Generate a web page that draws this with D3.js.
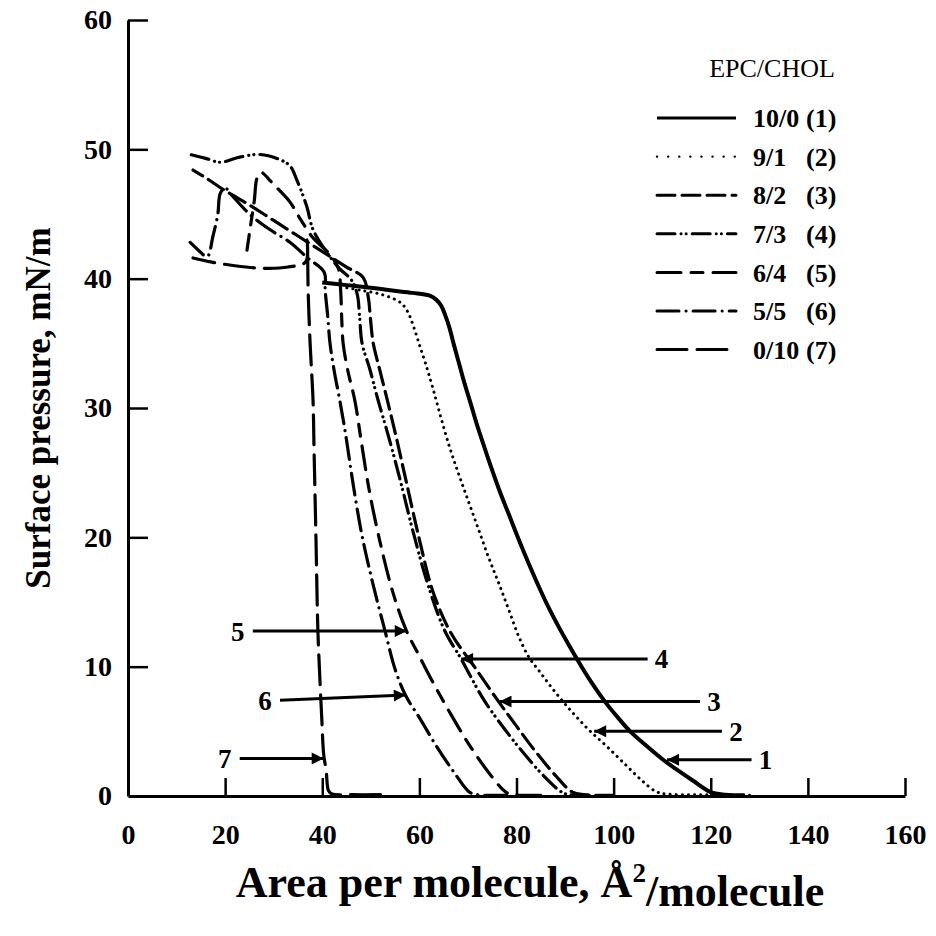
<!DOCTYPE html>
<html>
<head>
<meta charset="utf-8">
<title>EPC/CHOL isotherms</title>
<script src="https://cdn.jsdelivr.net/npm/d3@7"></script>
<style>
  body { margin: 0; background: #fff; }
  svg text { font-family: "Liberation Serif", "Times New Roman", serif; font-weight: bold; fill: #000; }
</style>
</head>
<body>
<svg id="chart" width="936" height="936"></svg>
<script>
// isotherms, [area A^2/molecule, pressure mN/m], large area -> small area
const iso1 = [[127,0.05],[123,0.1],[120,0.3],[116.3,1.2],[112.8,2.1],[110.2,2.8],[106.7,3.9],[103.4,5.0],[100.8,6.1],[98.4,7.2],[95.4,8.8],[92.6,10.5],[90.6,11.8],[88.8,13.0],[86.7,14.5],[84.7,16.1],[82.6,17.9],[80.6,19.7],[78.5,21.7],[76.5,23.6],[74.7,25.5],[73.0,27.4],[71.7,28.9],[70.6,30.3],[69.3,31.9],[68.2,33.4],[67.1,34.9],[66.2,36.2],[65.3,37.2],[64.5,37.9],[63.4,38.4],[62,38.7],[58.6,38.9],[54,39.1],[50,39.3],[45,39.5],[40,39.7]];
const iso2 = [[128,0.05],[118,0.1],[111,0.15],[108.7,0.35],[105.8,1.2],[102.5,2.4],[98.7,3.8],[95.2,5.0],[92.4,6.1],[89.8,7.2],[87.2,8.4],[84.8,9.6],[82.6,10.7],[80.5,12.3],[78.5,14.3],[76.4,16.4],[74.4,18.3],[72,20.8],[69.6,23.3],[67.8,25.2],[66.2,27],[64.4,29.3],[62.8,31.5],[61.3,33.4],[60,34.9],[58.8,36.3],[57.9,37.2],[56.8,37.9],[55.5,38.3],[52,38.8],[48,39.1],[45,39.3]];
const iso3 = [[100,0.05],[94,0.1],[91.5,0.3],[88,1.6],[84,3.4],[80,5.4],[76.5,7.2],[71.5,9.9],[66.5,12.6],[62.8,15.8],[59.9,20],[57.3,24.3],[55.2,27.8],[53.4,30.6],[51.8,33],[50.5,35],[49.9,37],[49.5,38.5],[48.4,40.1],[45,40.9],[40,42.1],[35,43.3],[30,44.5],[25,45.7],[20,46.8],[16,47.8],[13.4,48.4]];
const iso4 = [[95,0.05],[91,0.1],[89.3,0.3],[85.5,1.6],[81.5,3.3],[77.5,5.2],[73.5,7.3],[70.6,9.2],[68.6,10.6],[65.2,12.8],[61.8,16.3],[58.8,20.3],[56,24.5],[53.5,28],[51.5,30.6],[49.8,33],[48.2,35],[47.7,37],[47.2,38.8],[46,39.9],[43.5,40.8],[41,42],[38.1,43.8],[36.8,45.6],[34.8,47.6],[33.4,48.7],[31.3,49.2],[27.2,49.6],[23,49.4],[19,49],[16,49.3],[12.8,49.6]];
const iso5 = [[85,0.05],[79.5,0.1],[77.8,0.3],[74.3,1.8],[70.2,4],[66.2,6.5],[62.2,9.2],[59.6,11.1],[57.3,12.8],[54.5,15.8],[51.5,20.3],[49.5,24],[48,27.5],[46.7,30.6],[45.2,33],[44.3,35],[44,37],[43.8,39],[43.3,40.8],[41.5,41.9],[38,43.2],[35.5,44.6],[33.4,45.9],[31,46.9],[29.2,47.6],[27.5,48.2],[26.6,47.8],[26,46],[25.2,44],[24.5,42.2]];
const iso6 = [[78,0.05],[72,0.1],[70.3,0.3],[67.2,1.8],[63.6,3.8],[60.1,6],[57.2,7.75],[55,9.8],[52.9,12.8],[50.5,16.3],[48.1,20.3],[46.2,24.5],[44.8,28],[43.6,30.6],[42.4,33],[41.6,35],[41.1,37.2],[40.6,39.1],[40.4,40.5],[37,41.6],[33.4,42.8],[29.2,43.8],[25,45],[21.5,46.4],[20,47],[19,46.6],[18.5,45],[17.5,43.3],[16.3,41.7],[14.5,42.2],[12.8,42.8]];
const iso7 = [[52,0.1],[46,0.1],[42,0.15],[41.3,0.4],[40.8,2],[40.3,3.2],[39.9,6],[39.4,10],[39.1,12.8],[38.7,20],[38.3,27],[38.1,30.6],[37.5,35],[37.1,39],[36.9,43],[36.6,41.3],[33,40.9],[28,40.8],[22,41],[17,41.3],[13.4,41.6]];

const isotherms = [iso1, iso2, iso3, iso4, iso5, iso6, iso7];
const ratios = ['10/0', '9/1', '8/2', '7/3', '6/4', '5/5', '0/10'];
const curveIds = ['(1)', '(2)', '(3)', '(4)', '(5)', '(6)', '(7)'];
const xTicks = [0, 20, 40, 60, 80, 100, 120, 140, 160];
const yTicks = [0, 10, 20, 30, 40, 50, 60];

// arrows pointing at each curve: tip and tail in data units
const arrowNames = ['1', '2', '3', '4', '5', '6', '7'];
const arrowTips = [[111,2.8],[96,5.0],[76.5,7.3],[68.6,10.6],[57.4,12.75],[57.2,7.8],[40.3,2.9]];
const arrowTails = [[128.4,2.8],[122.3,5.0],[117.8,7.3],[107,10.6],[25.7,12.75],[31.3,7.4],[23,2.9]];

// line styles per curve
const dashes = [null, '0.1,6', '18,7', '18,6,0.1,5,0.1,6', '24,10,12,10', '22,7,0.1,7', '30,10'];
const widths = [4, 3, 3.2, 3.2, 3.2, 3.2, 3.2];

const svg = d3.select('#chart');
const x = d3.scaleLinear().domain([0, 160]).range([128, 905]);
const y = d3.scaleLinear().domain([0, 60]).range([796, 20]);

const line = d3.line()
    .x(d => x(d[0]))
    .y(d => y(d[1]))
    .curve(d3.curveCatmullRom.alpha(0.5));

// axes, ticks pointing inward
const xAxis = svg.append('g')
    .attr('transform', `translate(0,${y(0)})`)
    .call(d3.axisBottom(x).tickValues(xTicks).tickSizeInner(-18).tickSizeOuter(0).tickPadding(28));
xAxis.selectAll('.tick line').filter(d => d === 0).remove();

const yAxis = svg.append('g')
    .attr('transform', `translate(${x(0)},0)`)
    .call(d3.axisLeft(y).tickValues(yTicks).tickSizeInner(-20).tickSizeOuter(0).tickPadding(16));
yAxis.selectAll('.tick line').filter(d => d === 0).remove();

svg.selectAll('.domain').attr('stroke', '#000').attr('stroke-width', 3);
svg.selectAll('.tick line').attr('stroke', '#000').attr('stroke-width', 2.5);
svg.selectAll('.tick text').style('font-size', '28px').style('font-family', '"Liberation Serif", serif');

// curves
svg.append('g').selectAll('path').data(isotherms).join('path')
    .attr('d', line)
    .attr('fill', 'none')
    .attr('stroke', '#000')
    .attr('stroke-width', (d, i) => widths[i])
    .attr('stroke-linecap', (d, i) => i === 0 ? 'butt' : 'round')
    .attr('stroke-linejoin', 'round')
    .attr('stroke-dasharray', (d, i) => dashes[i]);

// arrows
svg.append('defs').append('marker')
    .attr('id', 'head')
    .attr('viewBox', '0 0 10 10')
    .attr('refX', 10).attr('refY', 5)
    .attr('markerWidth', 18).attr('markerHeight', 12)
    .attr('markerUnits', 'userSpaceOnUse')
    .attr('orient', 'auto')
    .append('path').attr('d', 'M0,0L10,5L0,10z').attr('fill', '#000');

const arrows = svg.append('g').selectAll('g').data(arrowNames).join('g');
arrows.append('line')
    .attr('x1', (d, i) => x(arrowTails[i][0]))
    .attr('y1', (d, i) => y(arrowTails[i][1]))
    .attr('x2', (d, i) => x(arrowTips[i][0]))
    .attr('y2', (d, i) => y(arrowTips[i][1]))
    .attr('stroke', '#000')
    .attr('stroke-width', 3)
    .attr('marker-end', 'url(#head)');
arrows.append('text')
    .attr('x', (d, i) => x(arrowTails[i][0]) + (arrowTails[i][0] > arrowTips[i][0] ? 14 : -15))
    .attr('y', (d, i) => y(arrowTails[i][1]))
    .attr('dy', '0.35em')
    .attr('text-anchor', 'middle')
    .style('font-size', '27px')
    .text(d => d);

// legend
const legend = svg.append('g');
legend.append('text')
    .attr('x', 772).attr('y', 77)
    .attr('text-anchor', 'middle')
    .style('font-size', '26px')
    .style('font-weight', 'normal')
    .text('EPC/CHOL');
const rows = legend.selectAll('g.row').data(ratios).join('g')
    .attr('class', 'row')
    .attr('transform', (d, i) => `translate(0,${118 + i * 38.6})`);
rows.append('line')
    .attr('x1', 657).attr('x2', 736)
    .attr('stroke', '#000')
    .attr('stroke-width', (d, i) => i === 1 ? 2.4 : 3)
    .attr('stroke-linecap', (d, i) => i === 0 ? 'butt' : 'round')
    .attr('stroke-dasharray', (d, i) => i === 1 ? '0.1,11' : dashes[i]);
rows.append('text')
    .attr('x', 753).attr('dy', '0.35em')
    .style('font-size', '26px')
    .text(d => d);
rows.append('text')
    .attr('x', 806).attr('dy', '0.35em')
    .style('font-size', '26px')
    .text((d, i) => curveIds[i]);

// axis titles
svg.append('text')
    .attr('transform', 'translate(38,408) rotate(-90)')
    .attr('text-anchor', 'middle')
    .attr('dy', '0.35em')
    .style('font-size', '35px')
    .text('Surface pressure, mN/m');

const xt = svg.append('text')
    .attr('x', 530).attr('y', 897)
    .attr('text-anchor', 'middle')
    .style('font-size', '44px');
xt.append('tspan').text('Area per molecule, Å');
xt.append('tspan').attr('dy', '-0.55em').style('font-size', '27px').text('2');
xt.append('tspan').attr('dy', '0.55em').text('/molecule');
</script>
</body>
</html>
